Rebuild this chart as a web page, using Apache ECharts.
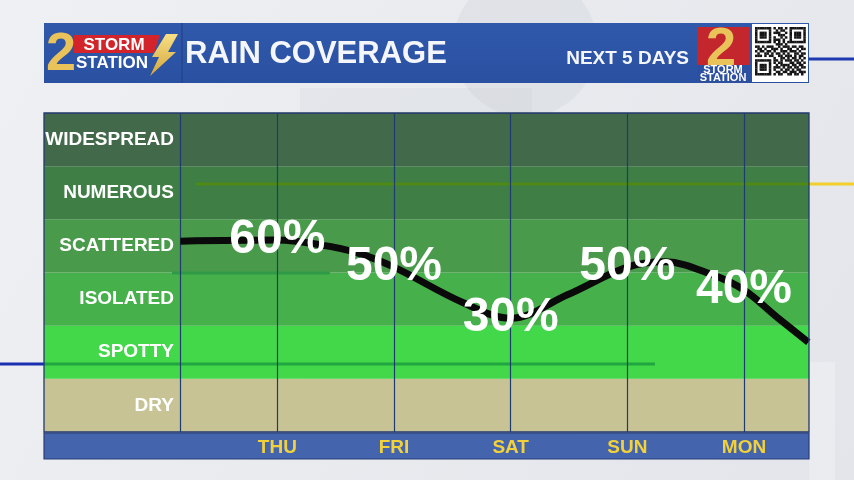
<!DOCTYPE html>
<html>
<head>
<meta charset="utf-8">
<script src="https://cdn.jsdelivr.net/npm/echarts@6/dist/echarts.min.js"></script>
<style>html,body{margin:0;padding:0;background:#e9ebef;}#c{width:854px;height:480px;}</style>
</head>
<body>
<div id="c"></div>
<script>
// ---------- data ----------
const days = ['THU', 'FRI', 'SAT', 'SUN', 'MON'];
const dayX = [1, 2, 3, 4, 5];
const rainPct = [60, 50, 30, 50, 40];
const coverageLevels = ['DRY', 'SPOTTY', 'ISOLATED', 'SCATTERED', 'NUMEROUS', 'WIDESPREAD'];
// traced coverage curve (x in days, y in coverage-level units)
const curveX = [0.169, 1, 1.369, 1.686, 2, 2.594, 3, 3.486, 4, 4.326, 4.737, 5, 5.283, 5.551];
const curveY = [3.59, 3.61, 3.52, 3.37, 3.10, 2.43, 2.14, 2.58, 3.10, 3.20, 2.95, 2.67, 2.16, 1.69];
const titleText = 'RAIN COVERAGE';
const subtitleText = 'NEXT 5 DAYS';

// ---------- styles ----------
const FONT = "'Liberation Sans', Arial, Helvetica, sans-serif";
const bandColors = ['#c8c395', '#43d84a', '#46b04a', '#4a9a4b', '#3f7f45', '#42694a'];
const GOLD = '#e9c25a';
const plotStart = 0.169;

const chart = echarts.init(document.getElementById('c'), null, { renderer: 'canvas' });

const levelAtDay = dayX.map(d => curveY[curveX.indexOf(d)]);

const bandAreas = coverageLevels.map((_, i) => [
  { yAxis: i, itemStyle: { color: bandColors[i] } },
  { yAxis: i + 1 }
]);
const vLines = [plotStart].concat(dayX).map(x => ({ xAxis: x }));

// QR decoration pattern
const qr = [
  '1111111010110101111111',
  '1000001001011001000001',
  '1011101011100101011101',
  '1011101000111001011101',
  '1011101010010101011101',
  '1000001011101001000001',
  '1111111010101011111111',
  '0000000001110100000000',
  '1101011100101110110110',
  '0110100111010011001011',
  '1011011010011101110100',
  '0100110101101010011011',
  '1110101100110111010110',
  '0000000010011010110101',
  '1111111011010111011010',
  '1000001010110001101101',
  '1011101001011110110110',
  '1011101011101011011011',
  '1011101010010110101100',
  '1000001001101101110111',
  '1111111010110011011010',
  '0000000000000000000000'
];
const qrEls = [];
const qx = 755, qy = 27, qm = 2.3;
qr.forEach((row, r) => {
  for (let c = 0; c < row.length; c++) {
    if (row[c] === '1') qrEls.push({ type: 'rect', shape: { x: qx + c * qm, y: qy + r * qm, width: qm + 0.2, height: qm + 0.2 }, style: { fill: '#151515' }, z: 21 });
  }
});

const graphics = [
  // background
  { type: 'rect', shape: { x: 0, y: 0, width: 854, height: 480 }, z: -100, silent: true,
    style: { fill: new echarts.graphic.LinearGradient(0, 0, 1, 1, [{ offset: 0, color: '#eef0f3' }, { offset: 1, color: '#e3e5ea' }]) } },
  { type: 'circle', shape: { cx: 525, cy: 45, r: 72 }, z: -99, silent: true, style: { fill: 'rgba(170,174,184,0.14)' } },
  { type: 'rect', shape: { x: 300, y: 88, width: 232, height: 25 }, z: -98, silent: true, style: { fill: 'rgba(200,203,210,0.2)' } },
  { type: 'rect', shape: { x: 809, y: 362, width: 26, height: 118 }, z: -98, silent: true, style: { fill: 'rgba(255,255,255,0.25)' } },
  // header bar
  { type: 'rect', shape: { x: 44, y: 23, width: 765, height: 60 }, z: 20,
    style: { fill: new echarts.graphic.LinearGradient(0, 0, 0, 1, [{ offset: 0, color: '#3059ab' }, { offset: 1, color: '#2a50a1' }]) } },
  { type: 'line', shape: { x1: 182, y1: 23, x2: 182, y2: 83 }, z: 21, style: { stroke: '#24468f', lineWidth: 1.5 } },
  { type: 'text', x: 185, y: 54, z: 21, style: { text: titleText, font: 'bold 31px ' + FONT, fill: '#f4f6fb', verticalAlign: 'middle' } },
  { type: 'text', x: 689, y: 59, z: 21, style: { text: subtitleText, font: 'bold 19px ' + FONT, fill: '#f4f6fb', align: 'right', verticalAlign: 'middle' } },
  // left logo
  { type: 'polygon', shape: { points: [[74, 35], [160, 35], [154, 53], [74, 53]] }, z: 21, style: { fill: '#d3232b' } },
  { type: 'text', x: 114, y: 45, z: 22, style: { text: 'STORM', font: 'bold 17px ' + FONT, fill: '#ffffff', align: 'center', verticalAlign: 'middle' } },
  { type: 'text', x: 112, y: 63, z: 22, style: { text: 'STATION', font: 'bold 17px ' + FONT, fill: '#ffffff', align: 'center', verticalAlign: 'middle' } },
  { type: 'text', x: 61, y: 55, z: 23, style: { text: '2', font: 'bold 54px ' + FONT, align: 'center', verticalAlign: 'middle', fill: GOLD } },
  { type: 'polygon', shape: { points: [[166, 34], [178, 34], [168, 52], [176, 52], [150, 76], [159, 57], [152, 57]] }, z: 22,
    style: { fill: new echarts.graphic.LinearGradient(0, 0, 0, 1, [{ offset: 0, color: '#f8df86' }, { offset: 1, color: '#d4a63a' }]) } },
  // right logo
  { type: 'rect', shape: { x: 697, y: 27, width: 53, height: 56 }, z: 21, style: { fill: '#2c4f9f' } },
  { type: 'rect', shape: { x: 697, y: 27, width: 53, height: 38 }, z: 21, style: { fill: '#c4262e' } },
  { type: 'text', x: 721, y: 50, z: 22, style: { text: '2', font: 'bold 54px ' + FONT, align: 'center', verticalAlign: 'middle', fill: GOLD } },
  { type: 'text', x: 723, y: 70, z: 22, style: { text: 'STORM', font: 'bold 11px ' + FONT, fill: '#ffffff', align: 'center', verticalAlign: 'middle' } },
  { type: 'text', x: 723, y: 78, z: 22, style: { text: 'STATION', font: 'bold 11px ' + FONT, fill: '#ffffff', align: 'center', verticalAlign: 'middle' } },
  { type: 'rect', shape: { x: 752, y: 24, width: 56, height: 58 }, z: 20, style: { fill: '#ffffff' } },
  { type: 'line', shape: { x1: 809, y1: 59, x2: 854, y2: 59 }, z: 19, style: { stroke: '#1f39b0', lineWidth: 3 } },
  // decorative stripes behind translucent panels
  { type: 'line', shape: { x1: 195, y1: 184, x2: 809, y2: 184 }, z: 1.5, silent: true, style: { stroke: '#4e8a14', lineWidth: 3 } },
  { type: 'line', shape: { x1: 809, y1: 184, x2: 854, y2: 184 }, z: 1.5, silent: true, style: { stroke: '#f2cf2c', lineWidth: 3 } },
  { type: 'line', shape: { x1: 172, y1: 273, x2: 330, y2: 273 }, z: 1.5, silent: true, style: { stroke: '#2f9b48', lineWidth: 3 } },
  { type: 'line', shape: { x1: 44, y1: 364, x2: 655, y2: 364 }, z: 1.5, silent: true, style: { stroke: '#1fa63e', lineWidth: 3 } },
  { type: 'line', shape: { x1: 0, y1: 364, x2: 44, y2: 364 }, z: 1.5, silent: true, style: { stroke: '#1b2fb0', lineWidth: 3 } },
  // bottom bar
  { type: 'rect', shape: { x: 44, y: 433, width: 765, height: 26 }, z: 1, style: { fill: '#4465ad', stroke: '#2a3d78', lineWidth: 1.2 } },
  // plot border
  { type: 'rect', shape: { x: 44, y: 113, width: 765, height: 319 }, z: 4, silent: true, style: { fill: 'none', stroke: '#22396e', lineWidth: 1.3 } }
].concat(qrEls);

const option = {
  animation: false,
  backgroundColor: '#e9ebef',
  textStyle: { fontFamily: FONT },
  grid: { left: 44, right: 45, top: 113, bottom: 48 },
  xAxis: {
    type: 'value', min: -1, max: 5.557,
    axisLine: { show: false }, axisTick: { show: false }, splitLine: { show: false },
    axisLabel: {
      customValues: dayX,
      formatter: v => days[dayX.indexOf(v)],
      color: '#f2d13b', fontSize: 19, fontWeight: 'bold', fontFamily: FONT, margin: 6
    },
    z: 10
  },
  yAxis: [
    { type: 'value', min: 0, max: 6, show: false },
    {
      type: 'category', data: coverageLevels, position: 'left', offset: -136,
      axisLine: { show: false }, axisTick: { show: false }, splitLine: { show: false },
      axisLabel: { color: '#ffffff', fontSize: 19, fontWeight: 'bold', fontFamily: FONT, margin: 6 },
      z: 10
    }
  ],
  graphic: { elements: graphics },
  series: [
    {
      type: 'line', name: 'coverage', yAxisIndex: 0,
      data: curveX.map((x, i) => [x, curveY[i]]),
      smooth: 0.35, symbol: 'none', z: 3,
      lineStyle: { color: '#0a0a0a', width: 7, cap: 'butt' },
      markArea: { silent: true, z: 1, data: bandAreas },
      markLine: {
        silent: true, z: 1.6, symbol: 'none', label: { show: false },
        lineStyle: { color: '#1f3c70', width: 1.2, type: 'solid' },
        data: vLines
      }
    },
    {
      type: 'scatter', name: 'labels', yAxisIndex: 0, symbolSize: 1, z: 6,
      itemStyle: { color: 'transparent', opacity: 1 },
      data: dayX.map((x, i) => [x, levelAtDay[i]]),
      label: {
        show: true, position: 'inside', offset: [0, 0], opacity: 1,
        formatter: p => rainPct[p.dataIndex] + '%',
        color: '#ffffff', fontSize: 48, fontWeight: 'bold', fontFamily: FONT,
        textBorderWidth: 0
      }
    }
  ]
};
chart.setOption(option);
</script>
</body>
</html>
